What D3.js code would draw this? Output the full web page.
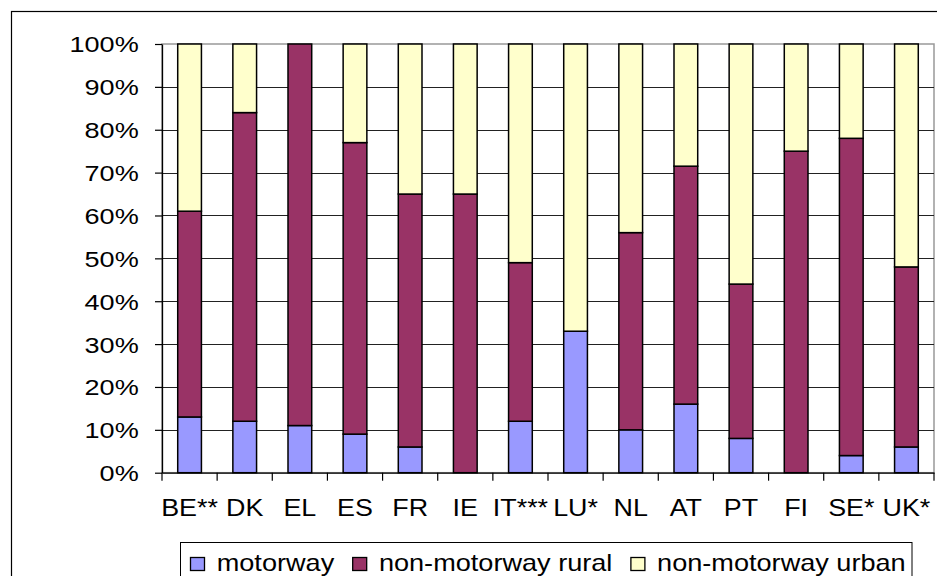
<!DOCTYPE html>
<html>
<head>
<meta charset="utf-8">
<script src="https://cdn.jsdelivr.net/npm/d3@7"></script>
<style>
  html, body { margin: 0; padding: 0; background: #fff; }
  svg { display: block; font-family: "Liberation Sans", Arial, sans-serif; }
</style>
</head>
<body>
<svg id="chart" width="937" height="576"></svg>
<script>
// ---- data ----
const categories = ["BE**","DK","EL","ES","FR","IE","IT***","LU*","NL","AT","PT","FI","SE*","UK*"];
const motorway   = [13, 12, 11,  9,  6,  0, 12, 33, 10, 16,   8,  0,  4,  6];
const rural      = [48, 72, 89, 68, 59, 65, 37,  0, 46, 55.5, 36, 75, 74, 42];
const urban      = [39, 16,  0, 23, 35, 35, 51, 67, 44, 28.5, 56, 25, 22, 52];
const seriesNames = ["motorway", "non-motorway rural", "non-motorway urban"];
const seriesColors = ["#9999FF", "#993366", "#FFFFCC"];
const yTicks = [0,10,20,30,40,50,60,70,80,90,100];

// ---- layout ----
const svg = d3.select("#chart");
const plot = {left: 162, right: 934, top: 44, bottom: 472.7};

const rows = categories.map((c, i) => ({cat: c, s0: motorway[i], s1: rural[i], s2: urban[i]}));
const stack = d3.stack().keys(["s0","s1","s2"]);
const stacked = stack(rows);

const x = d3.scaleBand().domain(categories).range([plot.left, plot.right])
  .paddingInner(0.57).paddingOuter(0.285);
const y = d3.scaleLinear().domain([0, 100]).range([plot.bottom, plot.top]);

// outer frame
svg.append("rect").attr("x", 11.5).attr("y", 11.5).attr("width", 1000).attr("height", 1000)
  .attr("fill", "none").attr("stroke", "#000").attr("stroke-width", 1.2);

// plot border
svg.append("rect").attr("x", plot.left).attr("y", plot.top)
  .attr("width", plot.right - plot.left).attr("height", plot.bottom - plot.top)
  .attr("fill", "#fff").attr("stroke", "#999").attr("stroke-width", 1.5);

// gridlines
svg.append("g").selectAll("line").data(yTicks.filter(t => t > 0 && t < 100)).join("line")
  .attr("x1", plot.left).attr("x2", plot.right)
  .attr("y1", d => Math.round(y(d)) + 0.5).attr("y2", d => Math.round(y(d)) + 0.5)
  .attr("stroke", "#222").attr("stroke-width", 1.2);

// bars
svg.append("g").selectAll("g").data(stacked).join("g")
  .attr("fill", (d, i) => seriesColors[i])
  .selectAll("rect").data(d => d.filter(p => p[1] - p[0] > 0)).join("rect")
  .attr("x", d => x(d.data.cat))
  .attr("width", x.bandwidth())
  .attr("y", d => y(d[1]))
  .attr("height", d => y(d[0]) - y(d[1]))
  .attr("stroke", "#000").attr("stroke-width", 1.5);

// y axis
const yAxis = svg.append("g").attr("transform", `translate(${plot.left},0)`)
  .call(d3.axisLeft(y).tickValues(yTicks).tickFormat(d => d + "%").tickSize(7).tickSizeOuter(0));
yAxis.select(".domain").attr("stroke", "#000").attr("stroke-width", 1.3);
yAxis.selectAll(".tick line").attr("stroke", "#000").attr("stroke-width", 1.2);
yAxis.selectAll(".tick text")
  .attr("x", -23.3 / 1.23).attr("dy", "0.36em")
  .attr("transform", "scale(1.23,1)")
  .attr("font-size", 22).attr("fill", "#000")
  .attr("font-family", "Liberation Sans, Arial, sans-serif");

// x axis
const xAxis = svg.append("g").attr("transform", `translate(0,${plot.bottom})`)
  .call(d3.axisBottom(x).tickSize(0).tickSizeOuter(0));
xAxis.select(".domain").attr("stroke", "#000").attr("stroke-width", 1.3);
xAxis.selectAll(".tick text")
  .attr("y", 43).attr("dy", 0)
  .attr("transform", "scale(1.12,1)")
  .attr("font-size", 24).attr("fill", "#000")
  .attr("font-family", "Liberation Sans, Arial, sans-serif");
// category boundary ticks
svg.append("g").selectAll("line").data(d3.range(categories.length + 1)).join("line")
  .attr("x1", i => plot.left + i * x.step()).attr("x2", i => plot.left + i * x.step())
  .attr("y1", plot.bottom).attr("y2", plot.bottom + 8)
  .attr("stroke", "#000").attr("stroke-width", 1.2);

// legend
const legend = svg.append("g");
legend.append("rect").attr("x", 180.5).attr("y", 542.5).attr("width", 731.5).attr("height", 100)
  .attr("fill", "#fff").attr("stroke", "#000").attr("stroke-width", 1);
let lx = 190;
const sx = 1.13;
seriesNames.forEach((name, i) => {
  legend.append("rect").attr("x", lx + 0.5).attr("y", 557.5).attr("width", 14).attr("height", 13)
    .attr("fill", seriesColors[i]).attr("stroke", "#000").attr("stroke-width", 1.3);
  const tx = lx + 26.7;
  const t = legend.append("text")
    .attr("transform", `translate(${tx},571) scale(${sx},1)`)
    .attr("font-size", 24).attr("fill", "#000").text(name);
  const w = t.node().getComputedTextLength() * sx;
  lx = tx + w + 18;
});
</script>
</body>
</html>
